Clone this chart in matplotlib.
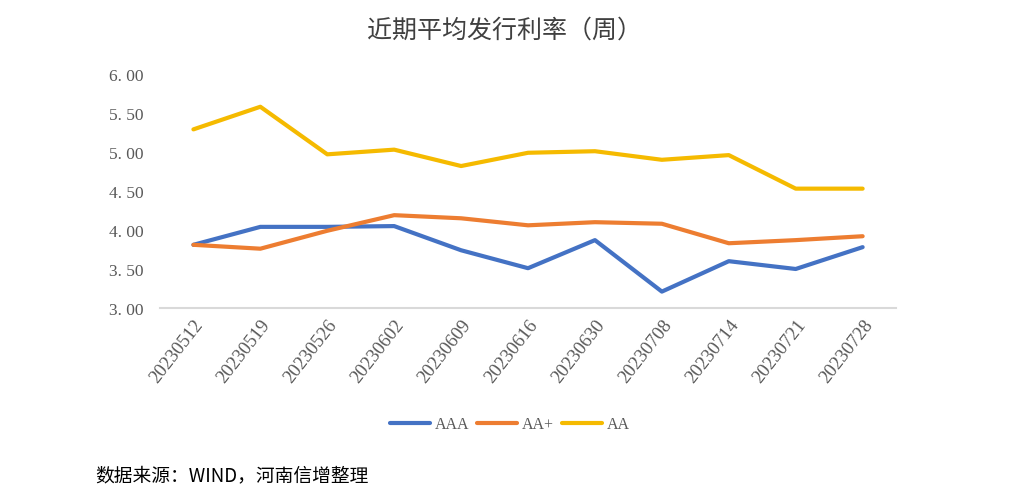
import matplotlib
matplotlib.use('Agg')
import matplotlib.pyplot as plt

plt.rcParams['font.family'] = ['Noto Sans CJK SC', 'DejaVu Sans']

# data
dates = ['20230512', '20230519', '20230526', '20230602', '20230609', '20230616',
         '20230630', '20230708', '20230714', '20230721', '20230728']
aaa = [3.81, 4.04, 4.04, 4.05, 3.74, 3.51, 3.87, 3.21, 3.60, 3.50, 3.78]
aa_plus = [3.81, 3.76, 3.99, 4.19, 4.15, 4.06, 4.10, 4.08, 3.83, 3.87, 3.92]
aa = [5.29, 5.58, 4.97, 5.03, 4.82, 4.99, 5.01, 4.90, 4.96, 4.53, 4.53]
y_ticks = [3.0, 3.5, 4.0, 4.5, 5.0, 5.5, 6.0]

fig = plt.figure(figsize=(10.3, 5.02), dpi=100)
ax = fig.add_axes([0.1553, 0.3845, 0.7147, 0.4661])

x = range(len(dates))
ax.plot(x, aaa, color='#4472C4', lw=3, solid_capstyle='round', solid_joinstyle='round', label='AAA')
ax.plot(x, aa_plus, color='#ED7D31', lw=3, solid_capstyle='round', solid_joinstyle='round', label='AA+')
ax.plot(x, aa, color='#F5BA00', lw=3, solid_capstyle='round', solid_joinstyle='round', label='AA')

ax.set_xlim(-0.5, len(dates) - 0.5)
ax.set_ylim(3.0, 6.0)
ax.set_yticks(y_ticks)
ax.set_yticklabels([f'{v:.2f}'.replace('.', '. ') for v in y_ticks],
                   family=['Liberation Serif'], fontsize=12.5, color='#595959')
ax.set_xticks(list(x))
ax.set_xticklabels(dates, rotation=52, ha='right', rotation_mode='anchor',
                   family=['Liberation Serif'], fontsize=13.5, color='#595959')
ax.tick_params(axis='both', length=0)
ax.tick_params(axis='y', pad=12)
ax.tick_params(axis='x', pad=6)

for s in ['top', 'right', 'left']:
    ax.spines[s].set_visible(False)
ax.spines['bottom'].set_color('#D9D9D9')
ax.spines['bottom'].set_linewidth(1.5)

fig.text(0.49, 0.94, '近期平均发行利率（周）', ha='center', va='center',
         fontsize=18, color='#404040')

leg = fig.legend(loc='center', bbox_to_anchor=(0.495, 0.153), ncol=3, frameon=False,
                 handlelength=2.5, handletextpad=0.3, columnspacing=0.5,
                 prop={'family': 'Liberation Serif', 'size': 11.5})
for t in leg.get_texts():
    t.set_color('#595959')

fig.text(0.092, 0.053, '数据来源：WIND，河南信增整理', ha='left', va='center',
         fontsize=13.5, color='#000000')

fig.savefig('out.png', dpi=100)
